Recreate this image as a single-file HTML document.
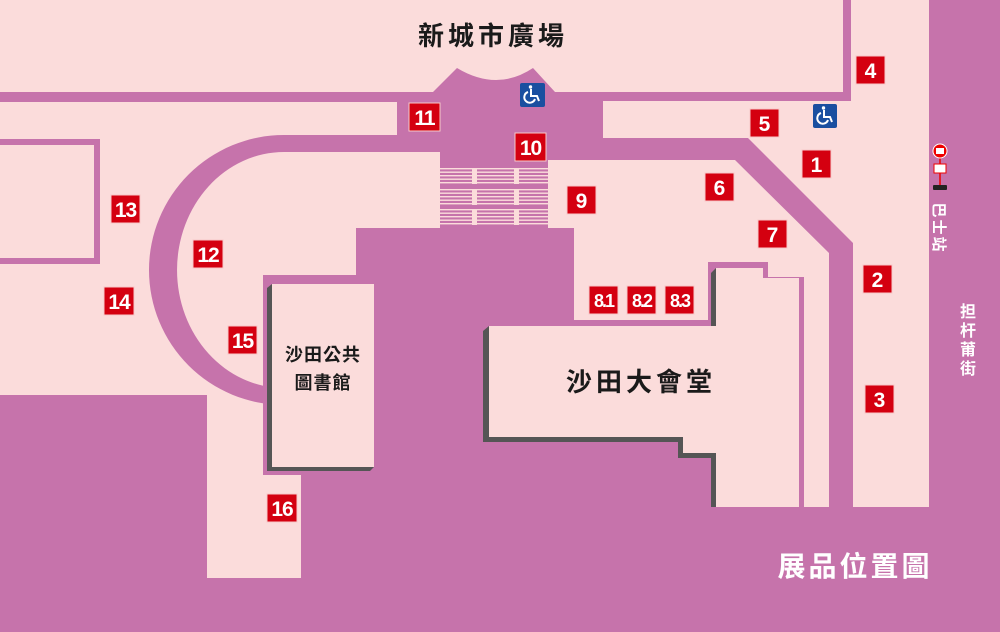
<!DOCTYPE html>
<html><head><meta charset="utf-8"><style>
html,body{margin:0;padding:0;background:#c673ab;}
svg{display:block}
text{font-family:"Liberation Sans","Noto Sans CJK TC",sans-serif;font-weight:bold}
.n{fill:#fff;font-size:21px;text-anchor:middle}
.r{fill:#d40010;stroke:#f7c9c9;stroke-width:1}
</style></head><body>
<svg width="1000" height="632" viewBox="0 0 1000 632" xmlns="http://www.w3.org/2000/svg">
<rect width="1000" height="632" fill="#c673ab"/>
<g fill="#fbdcdb">
<path d="M0 0H843V92H555L533 68Q497 92 457 68L433 92H0Z"/>
<path d="M851 0H929V507H853V243L748 138H603V101H851Z"/>
<path d="M548 160H735L829 253V507H804V277H768V262H708V320H574V228H548Z"/>
<path d="M0 102H397V135H440V228H356V275H263V395H0Z"/>
<rect x="207" y="395" width="94" height="183"/>
</g>
<rect x="-10" y="142" width="107" height="119" fill="none" stroke="#c673ab" stroke-width="6"/>
<path d="M440 135H284A135 135 0 0 0 284 405L284 388A107 118 0 0 1 284 152H440Z" fill="#c673ab"/>
<rect x="284" y="388" width="20" height="20" fill="#c673ab"/>
<rect x="263" y="275" width="93" height="200" fill="#c673ab"/>
<rect x="356" y="228" width="218" height="290" fill="#c673ab"/>
<g fill="#fbdcdb">
<rect x="440" y="168" width="108" height="1.4"/><rect x="440" y="171.5" width="108" height="1.4"/><rect x="440" y="175" width="108" height="1.4"/><rect x="440" y="178.5" width="108" height="1.4"/><rect x="440" y="182" width="108" height="1.4"/>
<rect x="440" y="189" width="108" height="1.4"/><rect x="440" y="192.5" width="108" height="1.4"/><rect x="440" y="196" width="108" height="1.4"/><rect x="440" y="199.5" width="108" height="1.4"/><rect x="440" y="203" width="108" height="1.4"/>
<rect x="440" y="209" width="108" height="1.4"/><rect x="440" y="212.5" width="108" height="1.4"/><rect x="440" y="216" width="108" height="1.4"/><rect x="440" y="219.5" width="108" height="1.4"/><rect x="440" y="223" width="108" height="1.4"/>
<rect x="472" y="168" width="5" height="16"/><rect x="514" y="168" width="5" height="16"/>
<rect x="472" y="189" width="5" height="16"/><rect x="514" y="189" width="5" height="16"/>
<rect x="472" y="209" width="5" height="16"/><rect x="514" y="209" width="5" height="16"/>
</g>
<path d="M267 288L272 284V467H374L370 471H267Z" fill="#555"/>
<rect x="272" y="284" width="102" height="183" fill="#fbdcdb"/>
<path d="M483 331L489 326V437H683V453H716V507H711V458H678V442H483Z" fill="#555"/>
<path d="M711 273L716 268V326H711Z" fill="#555"/>
<path d="M489 326H716V268H763V278H799V507H716V453H683V437H489Z" fill="#fbdcdb"/>
<g>
<rect x="520" y="83" width="25" height="24" rx="2" fill="#1a4fa0"/>
<rect x="813" y="104" width="24" height="24" rx="2" fill="#1a4fa0"/>
<g fill="none" stroke="#fff" stroke-width="2">
<path d="M528 92A5.5 5.5 0 1 0 535 99"/><path d="M531 89V96H537L539 101"/>
<path d="M821 113A5.5 5.5 0 1 0 828 120"/><path d="M824 110V117H830L832 122"/>
</g>
<circle cx="530.5" cy="87" r="1.7" fill="#fff"/><circle cx="823.5" cy="108" r="1.7" fill="#fff"/>
</g>
<g>
<line x1="940" y1="150" x2="940" y2="187" stroke="#e00" stroke-width="1.5"/>
<circle cx="940" cy="151" r="7" fill="#e00" stroke="#fff" stroke-width="1"/>
<rect x="936" y="148" width="8" height="6" fill="#fff"/>
<rect x="934" y="164" width="12" height="9" fill="#fff" stroke="#e00"/>
<rect x="933" y="185" width="14" height="5" rx="1" fill="#222"/>
</g>
<g>
<rect class="r" x="856" y="56" width="29" height="28"/><text class="n" x="870.5" y="78">4</text>
<rect class="r" x="750" y="109" width="29" height="28"/><text class="n" x="764.5" y="131">5</text>
<rect class="r" x="802" y="150" width="29" height="28"/><text class="n" x="816.5" y="172">1</text>
<rect class="r" x="705" y="173" width="29" height="28"/><text class="n" x="719.5" y="195">6</text>
<rect class="r" x="758" y="220" width="29" height="28"/><text class="n" x="772.5" y="242">7</text>
<rect class="r" x="863" y="265" width="29" height="28"/><text class="n" x="877.5" y="287">2</text>
<rect class="r" x="865" y="385" width="29" height="28"/><text class="n" x="879.5" y="407">3</text>
<rect class="r" x="567" y="186" width="29" height="28"/><text class="n" x="581.5" y="208">9</text>
<rect class="r" x="515" y="133" width="31" height="28"/><text class="n" x="530.5" y="155" style="letter-spacing:-1px">10</text>
<rect class="r" x="409" y="103" width="31" height="28"/><text class="n" x="424.5" y="125" style="letter-spacing:-1px">11</text>
<rect class="r" x="193" y="240" width="30" height="28"/><text class="n" x="208" y="262" style="letter-spacing:-1px">12</text>
<rect class="r" x="111" y="195" width="29" height="28"/><text class="n" x="125.5" y="217" style="letter-spacing:-1px">13</text>
<rect class="r" x="104" y="287" width="30" height="28"/><text class="n" x="119" y="309" style="letter-spacing:-1px">14</text>
<rect class="r" x="228" y="326" width="29" height="28"/><text class="n" x="242.5" y="348" style="letter-spacing:-1px">15</text>
<rect class="r" x="267" y="494" width="30" height="28"/><text class="n" x="282" y="516" style="letter-spacing:-1px">16</text>
<rect class="r" x="589" y="286" width="29" height="28"/><text class="n" x="603.5" y="307" style="font-size:18px;letter-spacing:-2px">8.1</text>
<rect class="r" x="627" y="286" width="29" height="28"/><text class="n" x="641.5" y="307" style="font-size:18px;letter-spacing:-2px">8.2</text>
<rect class="r" x="665" y="286" width="29" height="28"/><text class="n" x="679.5" y="307" style="font-size:18px;letter-spacing:-2px">8.3</text>
</g>
<text x="493" y="45" font-size="26" fill="#1a1a1a" text-anchor="middle" letter-spacing="4">新城市廣場</text>
<text x="323" y="361" font-size="18" fill="#1a1a1a" text-anchor="middle" letter-spacing="1">沙田公共</text>
<text x="323" y="389" font-size="18" fill="#1a1a1a" text-anchor="middle" letter-spacing="1">圖書館</text>
<text x="641" y="391" font-size="26" fill="#1a1a1a" text-anchor="middle" letter-spacing="4">沙田大會堂</text>
<text x="855" y="576" font-size="28" fill="#fff" text-anchor="middle" letter-spacing="3">展品位置圖</text>
<text transform="translate(934,228) rotate(90)" fill="#fff" font-size="15" text-anchor="middle" letter-spacing="2">巴士站</text>
<g fill="#fff" text-anchor="middle">
<text x="968" y="317" font-size="16">担</text><text x="968" y="336" font-size="16">杆</text><text x="968" y="355" font-size="16">莆</text><text x="968" y="374" font-size="16">街</text>
</g>
</svg>
</body></html>
